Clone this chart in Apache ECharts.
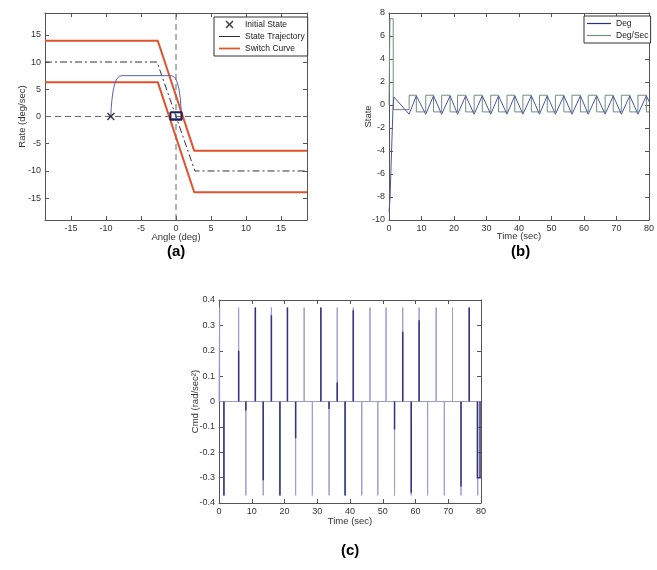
<!DOCTYPE html>
<html>
<head>
<meta charset="UTF-8">
<title>Switch curve response</title>
<style>
body{margin:0;background:#fff;}
#main{width:657px;height:570px;}
</style>
</head>
<body>
<div id="main"></div>
<script src="https://cdn.jsdelivr.net/npm/echarts@6/dist/echarts.min.js"></script>
<script>
// (a) phase plane: angle (deg) vs rate (deg/sec)
var switchUpper = [[-18.7,13.9],[-2.6,13.9],[2.6,-6.3],[18.7,-6.3]];
var switchLower = [[-18.7,6.3],[-2.6,6.3],[2.6,-13.9],[18.7,-13.9]];
var midCurve = [[-18.7,10],[-2.7,10],[2.7,-10],[18.7,-10]];
var initState = [[-9.3,0]];
var trajectory = [[-9.3,0],[-9.25,1.5],[-9.15,3],[-9.0,4.5],[-8.8,5.8],[-8.5,6.8],[-8.1,7.4],[-7.7,7.5],[-0.6,7.5],[-0.2,7.2],[0.1,6.5],[0.4,5.2],[0.6,3.5],[0.72,1.5],[0.75,0],[0.75,-0.4],[-0.8,-0.4],[-0.8,0.8]];
var limitCycle = [[-0.8,0.8],[0.8,0.8],[0.8,-0.6],[-0.8,-0.6],[-0.8,0.8]];
var angleTicks = [-15,-10,-5,0,5,10,15];
var rateTicks = [-15,-10,-5,0,5,10,15];

// (b) state time history
var degT = [0,0.3,1.2,1.5,6.2,8.4,11.3,13.7,16.2,18.8,21.1,23.6,26.2,28.7,31.3,33.7,36.3,38.7,41.2,43.8,46.3,48.7,51.2,53.8,56.3,58.9,61.3,63.9,66.5,69.0,71.5,74.1,76.6,79.2,80];
var degV = [-9.3,-8.2,-0.5,0.7,-0.8,0.8,-0.8,0.8,-0.8,0.8,-0.8,0.8,-0.8,0.8,-0.8,0.8,-0.8,0.8,-0.8,0.8,-0.8,0.8,-0.8,0.8,-0.8,0.8,-0.8,0.8,-0.8,0.8,-0.8,0.8,-0.8,0.8,0.3];
var rateT = [0,0.3,1.3,6.2,8.4,11.3,13.7,16.2,18.8,21.1,23.6,26.2,28.7,31.3,33.7,36.3,38.7,41.2,43.8,46.3,48.7,51.2,53.8,56.3,58.9,61.3,63.9,66.5,69.0,71.5,74.1,76.6,79.2,80];
var rateV = [0,7.5,-0.4,0.85,-0.6,0.85,-0.6,0.85,-0.6,0.85,-0.6,0.85,-0.6,0.85,-0.6,0.85,-0.6,0.85,-0.6,0.85,-0.6,0.85,-0.6,0.85,-0.6,0.85,-0.6,0.85,-0.6,0.85,-0.6,0.85,-0.6,-0.6];

// (c) command pulses
var cmdPeak = 0.37;
var upT = [0.2,6.0,11.1,16.0,20.9,26.0,31.1,36.1,41.0,46.1,51.0,56.1,61.1,66.3,71.3,76.4];
var upDark = [0,0.2,0.37,0.34,0.37,0,0.37,0.075,0.36,0,0,0.275,0.32,0,0,0.37];
var downT = [1.5,8.2,13.5,18.6,23.4,28.5,33.6,38.5,43.6,48.5,53.6,58.7,63.7,68.8,73.9,79.0];
var downDark = [-0.37,-0.035,-0.31,-0.37,-0.145,0,-0.03,-0.37,0,0,-0.11,-0.36,0,0,-0.335,0];
var endPulse = [[78.9,0],[78.9,-0.3],[79.7,-0.3],[79.7,0]];

var FONT = 'Liberation Sans';
var axisColor = '#555';
// thin horizontal bar for legend line samples (the bare moves keep the box height)
var lineIcon = 'path://M0,0M0,8M0,3.4L24,3.4L24,4.6L0,4.6Z';
var thickIcon = 'path://M0,0M0,8M0,3L24,3L24,5L0,5Z';

function pairs(xs, ys){
	return xs.map(function(x,i){ return [x, ys[i]]; });
}

// light spikes plus zero line
var spikes = [];
upT.forEach(function(t){ spikes.push([t, cmdPeak]); });
downT.forEach(function(t){ spikes.push([t, -cmdPeak]); });
spikes.sort(function(p,q){ return p[0]-q[0]; });
var cmdLight = [[0,0]];
spikes.forEach(function(s){ cmdLight.push([s[0],0],[s[0],s[1]],[s[0],0]); });
cmdLight.push([80,0]);

// darker overlapped parts
var cmdDark = [];
upT.forEach(function(t,i){ if(upDark[i]) cmdDark.push({coords:[[t,0],[t,upDark[i]]]}); });
downT.forEach(function(t,i){ if(downDark[i]) cmdDark.push({coords:[[t,0],[t,downDark[i]]]}); });
cmdDark.push({coords:endPulse});

function makeAxis(grid, pos, min, max, name, gap, ticks, interval, fmt){
	var ax = {
		type:'value', gridIndex:grid, position:pos, min:min, max:max,
		name:name, nameLocation:'middle', nameGap:gap, nameMoveOverlap:false,
		nameTextStyle:{color:'#333', fontSize:9.5, fontFamily:FONT},
		axisLine:{show:true, onZero:false, lineStyle:{color:axisColor}},
		axisTick:{show:true, inside:true, length:4, lineStyle:{color:axisColor}},
		axisLabel:{show:true, margin:4, color:'#333', fontSize:9, fontFamily:FONT},
		splitLine:{show:false}
	};
	if(ticks){
		ax.axisTick.customValues = ticks;
		ax.axisLabel.customValues = ticks;
	}else{
		ax.interval = interval;
	}
	if(fmt) ax.axisLabel.formatter = fmt;
	return ax;
}
function mirror(grid, pos, min, max, ticks, interval){
	var ax = makeAxis(grid, pos, min, max, '', 0, ticks, interval);
	ax.axisLabel.show = false;
	return ax;
}

var cmdFmt = function(v){ return Math.abs(v) < 1e-9 ? '0' : v.toFixed(1); };

var myChart = echarts.init(document.getElementById('main'));
myChart.setOption({
	animation:false,
	backgroundColor:'#fff',
	grid:[
		{left:45, top:13, width:262, height:207},
		{left:389, top:13, width:264, height:207},
		{left:219, top:300, width:262, height:203}
	],
	xAxis:[
		makeAxis(0,'bottom',-18.7,18.7,'Angle (deg)',12,angleTicks),
		mirror(0,'top',-18.7,18.7,angleTicks),
		makeAxis(1,'bottom',0,80,'Time (sec)',11,null,10),
		mirror(1,'top',0,80,null,10),
		makeAxis(2,'bottom',0,80,'Time (sec)',13,null,10),
		mirror(2,'top',0,80,null,10)
	],
	yAxis:[
		makeAxis(0,'left',-19,19,'Rate (deg/sec)',18,rateTicks),
		mirror(0,'right',-19,19,rateTicks),
		makeAxis(1,'left',-10,8,'State',16,null,2),
		mirror(1,'right',-10,8,null,2),
		makeAxis(2,'left',-0.4,0.4,'Cmd (rad/sec²)',19,null,0.1,cmdFmt),
		mirror(2,'right',-0.4,0.4,null,0.1)
	],
	legend:[
		{
			data:[
				{name:'Initial State'},
				{name:'State Trajectory', icon:lineIcon},
				{name:'Switch Curve', icon:thickIcon}
			],
			orient:'vertical', left:214, top:17,
			itemWidth:21, itemHeight:8, itemGap:3,
			padding:[3,3,3,5],
			borderColor:'#333', borderWidth:1, backgroundColor:'#fff',
			textStyle:{color:'#222', fontSize:8.5, fontFamily:FONT}
		},
		{
			data:[
				{name:'Deg', icon:lineIcon},
				{name:'Deg/Sec', icon:lineIcon}
			],
			orient:'vertical', left:584, top:16,
			itemWidth:24, itemHeight:8, itemGap:3,
			padding:[3,2,3,3],
			borderColor:'#333', borderWidth:1, backgroundColor:'#fff',
			textStyle:{color:'#222', fontSize:8.5, fontFamily:FONT}
		}
	],
	graphic:[
		{type:'text', left:167, top:244, style:{text:'(a)', font:'bold 15px Liberation Sans', fill:'#000'}},
		{type:'text', left:511, top:244, style:{text:'(b)', font:'bold 15px Liberation Sans', fill:'#000'}},
		{type:'text', left:341, top:543, style:{text:'(c)', font:'bold 15px Liberation Sans', fill:'#000'}}
	],
	series:[
		// (a)
		{name:'zeroH', type:'line', xAxisIndex:0, yAxisIndex:0, symbol:'none',
			data:[[-18.7,0],[18.7,0]], lineStyle:{color:'#666', width:1, type:[6,4]}},
		{name:'zeroV', type:'line', xAxisIndex:0, yAxisIndex:0, symbol:'none',
			data:[[0,-19],[0,19]], lineStyle:{color:'#666', width:1, type:[6,4]}},
		{name:'mid', type:'line', xAxisIndex:0, yAxisIndex:0, symbol:'none',
			data:midCurve, lineStyle:{color:'#333', width:1, type:[7,3,2,3]}},
		{name:'Switch Curve', type:'line', xAxisIndex:0, yAxisIndex:0, symbol:'none',
			data:switchUpper, color:'#e0522c', lineStyle:{color:'#e0522c', width:2}},
		{name:'Switch Curve', type:'line', xAxisIndex:0, yAxisIndex:0, symbol:'none',
			data:switchLower, color:'#e0522c', lineStyle:{color:'#e0522c', width:2}},
		{name:'State Trajectory', type:'line', xAxisIndex:0, yAxisIndex:0, symbol:'none',
			data:trajectory, color:'#2a2a55', lineStyle:{color:'#5a62b4', width:1}, z:4},
		{name:'cycle', type:'line', xAxisIndex:0, yAxisIndex:0, symbol:'none',
			data:limitCycle, lineStyle:{color:'#1e1e5c', width:2}, z:5},
		{name:'Initial State', type:'scatter', xAxisIndex:0, yAxisIndex:0,
			data:initState, symbolSize:8,
			symbol:'path://M0,1.4L1.4,0L5,3.6L8.6,0L10,1.4L6.4,5L10,8.6L8.6,10L5,6.4L1.4,10L0,8.6L3.6,5Z',
			itemStyle:{color:'#111'}, z:6},
		// (b)
		{name:'Deg/Sec', type:'line', xAxisIndex:2, yAxisIndex:2, symbol:'none', step:'end',
			data:pairs(rateT, rateV), color:'#6f8f7c', lineStyle:{color:'#6f8f7c', width:1}},
		{name:'Deg', type:'line', xAxisIndex:2, yAxisIndex:2, symbol:'none',
			data:pairs(degT, degV), color:'#2e3470', lineStyle:{color:'#4a55a0', width:1}, z:4},
		// (c)
		{name:'cmd', type:'line', xAxisIndex:4, yAxisIndex:4, symbol:'none',
			data:cmdLight, lineStyle:{color:'#9a9ad6', width:1}},
		{name:'cmdDark', type:'lines', coordinateSystem:'cartesian2d', xAxisIndex:4, yAxisIndex:4,
			polyline:true, data:cmdDark, lineStyle:{color:'#34347c', width:1.5, opacity:1}, z:4}
	]
});
</script>
</body>
</html>
